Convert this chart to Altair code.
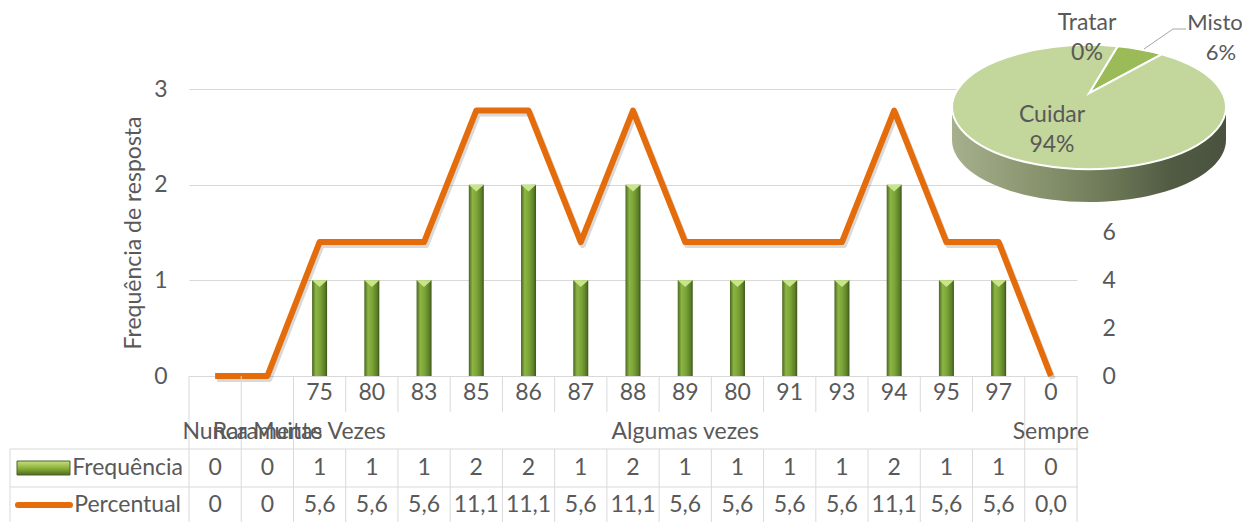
import altair as alt
import pandas as pd

# ---------------- data ----------------
categories = ["", "", "75", "80", "83", "85", "86", "87", "88", "89", "80", "91", "93", "94", "95", "97", "0"]
frequencia = [0, 0, 1, 1, 1, 2, 2, 1, 2, 1, 1, 1, 1, 2, 1, 1, 0]
percentual = [0, 0, 5.6, 5.6, 5.6, 11.1, 11.1, 5.6, 11.1, 5.6, 5.6, 5.6, 5.6, 11.1, 5.6, 5.6, 0.0]
percentual_labels = ["0", "0", "5,6", "5,6", "5,6", "11,1", "11,1", "5,6", "11,1", "5,6",
                     "5,6", "5,6", "5,6", "11,1", "5,6", "5,6", "0,0"]
series_names = ["Frequência", "Percentual"]

group_names = ["Nunca", "Raramente", "Muitas Vezes", "Algumas vezes", "Sempre"]
group_first = [0, 1, 2, 3, 16]
group_last = [0, 1, 2, 15, 16]

pie_labels = ["Tratar", "Misto", "Cuidar"]
pie_counts = [0, 1, 17]

left_ticks = [0, 1, 2, 3]
right_ticks = [0, 2, 4, 6]

# ---------------- style ----------------
FONT = "Lato"
FS = 23
TXT = "#595959"
GRID = "#d9d9d9"
ORANGE = "#e46c0a"
W, H = 888, 287

keys = [f"c{i:02d}" for i in range(len(categories))]
df = pd.DataFrame({
    "key": keys,
    "label": categories,
    "freq": frequencia,
    "perc": percentual,
    "perc_label": percentual_labels,
})
xscale = alt.Scale(domain=keys, paddingInner=0, paddingOuter=0)
x_enc = alt.X("key:N", scale=xscale, axis=None)

bar_grad = alt.Gradient(
    gradient="linear", x1=0, x2=1, y1=0, y2=0,
    stops=[alt.GradientStop(offset=0, color="#4a6620"),
           alt.GradientStop(offset=0.25, color="#8cb545"),
           alt.GradientStop(offset=0.55, color="#7aa336"),
           alt.GradientStop(offset=0.85, color="#5b7e28"),
           alt.GradientStop(offset=1, color="#3b5418")])

bars = alt.Chart(df).mark_bar(size=15, color=bar_grad).encode(
    x=x_enc,
    y=alt.Y("freq:Q", scale=alt.Scale(domain=[0, 3]),
            axis=alt.Axis(values=left_ticks, grid=True, gridColor=GRID, domain=False, ticks=False,
                          labelFont=FONT, labelFontSize=FS, labelColor=TXT, labelPadding=22,
                          title="Frequência de resposta", titleFont=FONT, titleFontSize=FS,
                          titleFontWeight="normal", titleColor=TXT, titlePadding=8)),
)
bevel = alt.Chart(df).transform_filter("datum.freq > 0").mark_point(
    shape="M -1 0 L 1 0 L 0 0.9 Z", size=225, filled=True, color="#c8e58a", opacity=1
).encode(x=x_enc, y=alt.Y("freq:Q", scale=alt.Scale(domain=[0, 3]), axis=None))

line_shadow = alt.Chart(df).mark_line(color="#000000", opacity=0.15, strokeWidth=6,
                                      strokeJoin="round", xOffset=2, yOffset=3).encode(
    x=x_enc, y=alt.Y("perc:Q", scale=alt.Scale(domain=[0, 12]), axis=None))
line = alt.Chart(df).mark_line(color=ORANGE, strokeWidth=6, strokeJoin="round").encode(
    x=x_enc,
    y=alt.Y("perc:Q", scale=alt.Scale(domain=[0, 12]),
            axis=alt.Axis(orient="right", values=right_ticks, grid=False, domain=False, ticks=False,
                          labelFont=FONT, labelFontSize=FS, labelColor=TXT, labelPadding=25,
                          title=None)),
)

# ---------------- data table ----------------
def row_text(field, ypix):
    return alt.Chart(df).mark_text(font=FONT, fontSize=FS, color=TXT, baseline="middle").encode(
        x=x_enc, y=alt.value(ypix), text=field)

cat_row = row_text("label:N", 304)
freq_row = row_text("freq:Q", 379)
perc_row = row_text("perc_label:N", 416)

grp_df = pd.DataFrame({"name": group_names,
                       "key": [keys[(a + b) // 2] for a, b in zip(group_first, group_last)]})
grp_row = alt.Chart(grp_df).mark_text(font=FONT, fontSize=FS, color=TXT, baseline="middle").encode(
    x=x_enc, y=alt.value(343), text="name:N")

def vrules(sel, y1, y2):
    d = pd.DataFrame({"key": [keys[i] for i in sel]})
    left = alt.Chart(d).mark_rule(color=GRID, strokeWidth=1).encode(
        x=alt.X("key:N", bandPosition=0, scale=xscale, axis=None), y=alt.value(y1), y2=alt.value(y2))
    right = alt.Chart(pd.DataFrame({"key": [keys[-1]]})).mark_rule(color=GRID, strokeWidth=1).encode(
        x=alt.X("key:N", bandPosition=1, scale=xscale, axis=None), y=alt.value(y1), y2=alt.value(y2))
    return [left, right]

all_idx = list(range(len(keys)))
group_edges = [0, 1, 2, 16]
vr = vrules(all_idx, 287, 323) + vrules(group_edges, 323, 360) + vrules(all_idx, 360, 445)

one = pd.DataFrame({"a": [0]})
hrules = [alt.Chart(one).mark_rule(color=GRID, strokeWidth=1).encode(
    x=alt.value(-179), x2=alt.value(W + 1), y=alt.value(yy)) for yy in (360, 398)]
left_edge = alt.Chart(one).mark_rule(color=GRID, strokeWidth=1).encode(
    x=alt.value(-179), y=alt.value(360), y2=alt.value(445))

sw_grad = alt.Gradient(gradient="linear", x1=0, x2=0, y1=0, y2=1,
                       stops=[alt.GradientStop(offset=0, color="#c5e07f"),
                              alt.GradientStop(offset=0.5, color="#8db33a"),
                              alt.GradientStop(offset=1, color="#4f6b22")])
sw_freq = alt.Chart(one).mark_rect(color=sw_grad, stroke="#4f6228", strokeWidth=1).encode(
    x=alt.value(-172), x2=alt.value(-119), y=alt.value(372), y2=alt.value(386))
sw_perc = alt.Chart(one).mark_rule(color=ORANGE, strokeWidth=6, strokeCap="round").encode(
    x=alt.value(-171), x2=alt.value(-119), y=alt.value(416))
lg_freq = alt.Chart(one).mark_text(font=FONT, fontSize=FS, color=TXT, align="right", baseline="middle").encode(
    x=alt.value(-6), y=alt.value(379), text=alt.value(series_names[0]))
lg_perc = alt.Chart(one).mark_text(font=FONT, fontSize=FS, color=TXT, align="right", baseline="middle").encode(
    x=alt.value(-8), y=alt.value(416), text=alt.value(series_names[1]))

# ---------------- pie (3D-looking ellipse) ----------------
pie_df = pd.DataFrame({"name": pie_labels, "n": pie_counts})
PCX, PCY = 900, 18
PIE_SIZE = 274 ** 2
K = 0.453
D = 0.24
START = 0.21
side_path = f"M -1 0 A 1 {K} 0 0 0 1 0 L 1 {D} A 1 {K} 0 0 1 -1 {D} Z"
side_grad = alt.Gradient(gradient="linear", x1=0, x2=1, y1=0, y2=0,
                         stops=[alt.GradientStop(offset=0, color="#a6b08c"),
                                alt.GradientStop(offset=0.3, color="#8a9570"),
                                alt.GradientStop(offset=0.6, color="#6a7555"),
                                alt.GradientStop(offset=0.8, color="#515b43"),
                                alt.GradientStop(offset=1, color="#4a523f")])
side = alt.Chart(pie_df).transform_aggregate(total="sum(n)").mark_point(
    shape=side_path, size=PIE_SIZE, filled=True, opacity=1, color=side_grad, strokeWidth=0
).encode(x=alt.value(PCX), y=alt.value(PCY))

r4 = lambda e: f"round(({e})*10000)/10000"
path_expr = (
    "'M 0 -0.1 L ' + " + r4("sin(datum.a0)") + " + ' ' + " + r4(f"-{K}*cos(datum.a0)") +
    f" + ' A 1 {K} 0 ' + (datum.n/datum.total > 0.5 ? 1 : 0) + ' 1 ' + " + r4("sin(datum.a1)") +
    " + ' ' + " + r4(f"-{K}*cos(datum.a1)") + " + ' Z'"
)
pie_base = alt.Chart(pie_df).transform_joinaggregate(total="sum(n)").transform_window(
    cum="sum(n)", frame=[None, 0]
).transform_calculate(
    a1=f"{START} + 2*PI*datum.cum/datum.total",
    a0=f"{START} + 2*PI*(datum.cum - datum.n)/datum.total",
    pct="format(datum.n/datum.total, '.0%')",
)
pie_colors = ["#77933c", "#9bbb59", "#c3d69b"]
slices = pie_base.transform_calculate(path=path_expr).mark_point(
    size=PIE_SIZE, filled=True, opacity=1, stroke="white", strokeWidth=2
).encode(
    x=alt.value(PCX), y=alt.value(PCY),
    shape=alt.Shape("path:N", scale=None),
    color=alt.Color("name:N", scale=alt.Scale(domain=pie_labels, range=pie_colors), legend=None),
)

def pie_label(name, x, y1, y2, dx2=0, fs=FS):
    base = pie_base.transform_filter(f"datum.name == '{name}'")
    t1 = base.mark_text(font=FONT, fontSize=fs, color=TXT, baseline="middle").encode(
        x=alt.value(x), y=alt.value(y1), text="name:N")
    t2 = base.mark_text(font=FONT, fontSize=fs, color=TXT, baseline="middle").encode(
        x=alt.value(x + dx2), y=alt.value(y2), text="pct:N")
    return [t1, t2]

pie_texts = pie_label("Cuidar", 863, 26, 56) + pie_label("Tratar", 898, -66, -36) + \
    pie_label("Misto", 1026, -66, -36, 6, 22)
leader = [
    alt.Chart(one).mark_rule(color="#a6a6a6", strokeWidth=1).encode(
        x=alt.value(955), x2=alt.value(984), y=alt.value(-40), y2=alt.value(-60)),
    alt.Chart(one).mark_rule(color="#a6a6a6", strokeWidth=1).encode(
        x=alt.value(984), x2=alt.value(997), y=alt.value(-60), y2=alt.value(-60)),
]

layers = ([bars, bevel, line_shadow, line] + vr + hrules +
          [left_edge, cat_row, grp_row, freq_row, perc_row, sw_freq, sw_perc, lg_freq, lg_perc,
           side, slices] + pie_texts + leader)

chart = alt.layer(*layers).resolve_scale(y="independent").properties(
    width=W, height=H,
    autosize=alt.AutoSizeParams(type="none"),
    padding={"left": 181, "top": 81, "right": 165, "bottom": 150},
    background="white",
).configure_view(strokeWidth=0)

chart.save("out.html", embed_options={"renderer": "svg", "actions": False})
